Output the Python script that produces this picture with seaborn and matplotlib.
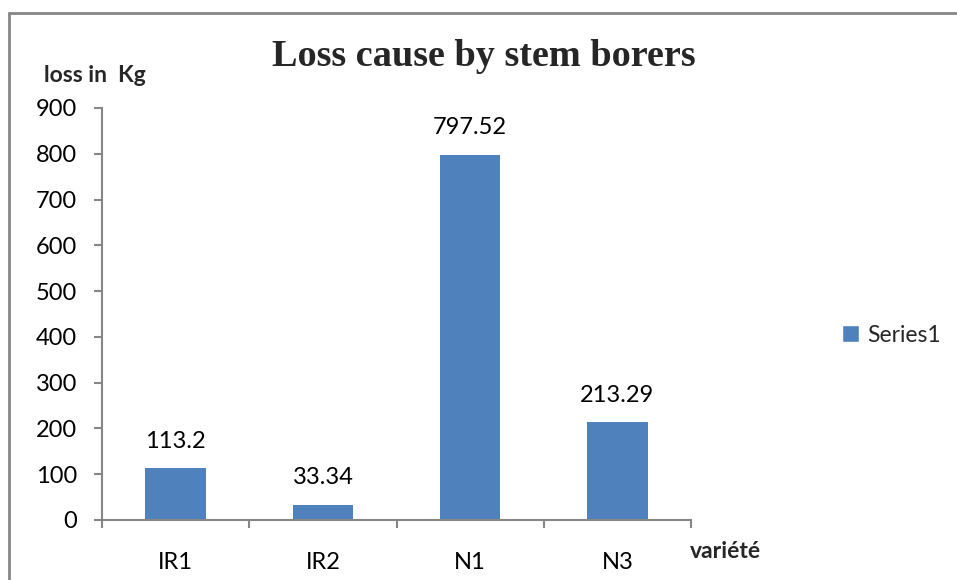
import matplotlib
matplotlib.use("Agg")
import matplotlib.pyplot as plt
import seaborn as sns
import pandas as pd
from matplotlib.lines import Line2D
from matplotlib.patches import Patch

categories = ["IR1", "IR2", "N1", "N3"]
values = [113.2, 33.34, 797.52, 213.29]
value_labels = ["113.2", "33.34", "797.52", "213.29"]
yticks = [0, 100, 200, 300, 400, 500, 600, 700, 800, 900]
series_name = "Series1"

sns.set_theme(style="white")
plt.rcParams["font.family"] = ["Lato", "DejaVu Sans"]

W, H = 957, 580
fig = plt.figure(figsize=(W / 100, H / 100), dpi=100)
ax = fig.add_axes([102 / W, 1 - 520 / H, (691 - 102) / W, (520 - 108) / H])

df = pd.DataFrame({"cat": categories, "val": values})
sns.barplot(data=df, x="cat", y="val", color="#4F81BD", saturation=1,
            width=0.41, ax=ax, edgecolor="none")

FS = 17
ax.set_xlim(-0.5, len(categories) - 0.5)
ax.set_ylim(0, 900)
ax.set_yticks(yticks)
ax.set_yticklabels([str(t) for t in yticks], fontsize=FS, color="black")
ax.set_xticks(range(len(categories)))
ax.set_xticklabels(categories, fontsize=FS, color="black")
ax.set_xticks([i - 0.5 for i in range(len(categories) + 1)], minor=True)
ax.tick_params(axis="x", which="major", length=0, pad=23)
ax.tick_params(axis="x", which="minor", length=6, width=1.5, color="#868686", direction="out", bottom=True)
ax.tick_params(axis="y", which="major", length=6, width=1.5, color="#868686", direction="out", left=True, pad=12)
ax.set_xlabel("")
ax.set_ylabel("")
for s in ["top", "right"]:
    ax.spines[s].set_visible(False)
for s in ["left", "bottom"]:
    ax.spines[s].set_color("#868686")
    ax.spines[s].set_linewidth(1.5)

for i, (v, lab) in enumerate(zip(values, value_labels)):
    ax.text(i, v + 36, lab, ha="center", va="bottom", fontsize=FS, color="black")

fig.text(484 / W, 1 - 56 / H, "Loss cause by stem borers", ha="center", va="center",
         fontsize=27.5, fontweight="bold", family=["Liberation Serif", "DejaVu Serif"])
fig.text(44 / W, 1 - 76 / H, "loss in  Kg", ha="left", va="center",
         fontsize=16.5, fontweight="bold")
fig.text(690 / W, 1 - 552 / H, "variété", ha="left", va="center",
         fontsize=16.5, fontweight="bold")

leg = fig.legend(handles=[Patch(facecolor="#4F81BD", label=series_name)],
                 loc="center left", bbox_to_anchor=(842 / W, 1 - 335 / H),
                 frameon=False, fontsize=16.5, handlelength=0.72, handleheight=0.72,
                 handletextpad=0.4, borderpad=0, borderaxespad=0)

fig.add_artist(Line2D([8.5 / W, 8.5 / W], [0, 1 - 13 / H], transform=fig.transFigure,
                      color="#868686", lw=2))
fig.add_artist(Line2D([8.5 / W, 1], [1 - 13 / H, 1 - 13 / H], transform=fig.transFigure,
                      color="#868686", lw=2))

fig.savefig("out.png", dpi=100, facecolor="white")
